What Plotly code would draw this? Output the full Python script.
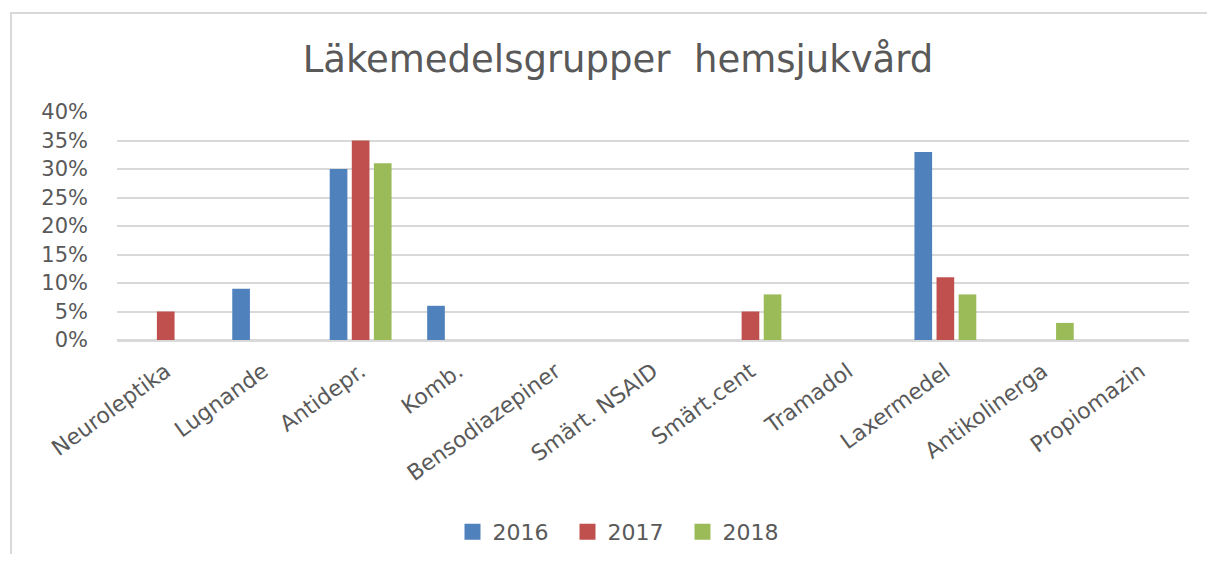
import plotly.graph_objects as go

categories = ["Neuroleptika", "Lugnande", "Antidepr.", "Komb.", "Bensodiazepiner",
              "Smärt. NSAID", "Smärt.cent", "Tramadol", "Laxermedel", "Antikolinerga",
              "Propiomazin"]
years = ["2016", "2017", "2018"]
v2016 = [0, 0.09, 0.30, 0.06, 0, 0, 0, 0, 0.33, 0, 0]
v2017 = [0.05, 0, 0.35, 0, 0, 0, 0.05, 0, 0.11, 0, 0]
v2018 = [0, 0, 0.31, 0, 0, 0, 0.08, 0, 0.08, 0.03, 0]
colors = ["#4F81BD", "#C0504D", "#9BBB59"]
title_text = "Läkemedelsgrupper  hemsjukvård"
yticks = [0, 0.05, 0.10, 0.15, 0.20, 0.25, 0.30, 0.35, 0.40]
ytick_labels = ["0%", "5%", "10%", "15%", "20%", "25%", "30%", "35%", "40%"]

FONT = "DejaVu Sans"
GRAY = "#595959"

fig = go.Figure()
for name, vals, col in zip(years, [v2016, v2017, v2018], colors):
    fig.add_trace(go.Bar(x=categories, y=vals, name=name, showlegend=False,
                         legendgroup=name,
                         marker=dict(color=col, line=dict(width=0))))
# legend entries with larger square swatches
for name, col in zip(years, colors):
    fig.add_trace(go.Scatter(x=[None], y=[None], mode="markers", name=name,
                             legendgroup=name,
                             marker=dict(symbol="square", size=16, color=col)))

OFF = 8  # page offset of the figure in the browser
W, H = 1215 - 2 * OFF, 562 - 2 * OFF
L = 117 - OFF
R = W - (1189 - OFF)
T = 112 - OFF
B = H - (340 - OFF)
fig.update_layout(
    width=W, height=H,
    margin=dict(l=L, r=R, t=T, b=B, autoexpand=False),
    paper_bgcolor="white", plot_bgcolor="white",
    barmode="group", bargap=0.32, bargroupgap=0.2,
    title=dict(text=title_text, x=(618 - OFF) / W, xref="container", xanchor="center",
               y=1 - (59 - OFF) / H, yref="container", yanchor="middle",
               font=dict(family=FONT, size=37, color=GRAY)),
    font=dict(family=FONT, color=GRAY),
    showlegend=True,
    legend=dict(orientation="h", xref="container", x=(625 - OFF) / W, xanchor="center",
                yref="container", y=1 - (532 - OFF) / H, yanchor="middle",
                font=dict(family=FONT, size=22, color=GRAY),
                itemwidth=30, traceorder="normal", entrywidth=70,
                entrywidthmode="pixels"),
    xaxis=dict(tickangle=-36, tickfont=dict(family=FONT, size=22, color=GRAY),
               showgrid=False, showline=True, linecolor="#D9D9D9", linewidth=2,
               ticks="", automargin=False, ticklabelstandoff=8),
    yaxis=dict(range=[0, 0.40], tickvals=yticks, ticktext=ytick_labels,
               tickfont=dict(family=FONT, size=21, color=GRAY),
               showgrid=True, gridcolor="#D9D9D9", gridwidth=2,
               zeroline=True, zerolinecolor="#D9D9D9", zerolinewidth=2,
               showline=False, ticks="", ticklabelstandoff=28, automargin=False),
)

pw, ph = W - L - R, H - T - B
def px(xr):
    return (xr - OFF - L) / pw
def py(yr):
    return (H - B - (yr - OFF)) / ph
fig.add_shape(type="rect", xref="paper", yref="paper",
              x0=px(11), x1=px(1215 + 20), y0=py(562 + 20), y1=py(13),
              line=dict(color="#D9D9D9", width=2), fillcolor="rgba(0,0,0,0)",
              layer="below")

fig.write_html("out.html")
